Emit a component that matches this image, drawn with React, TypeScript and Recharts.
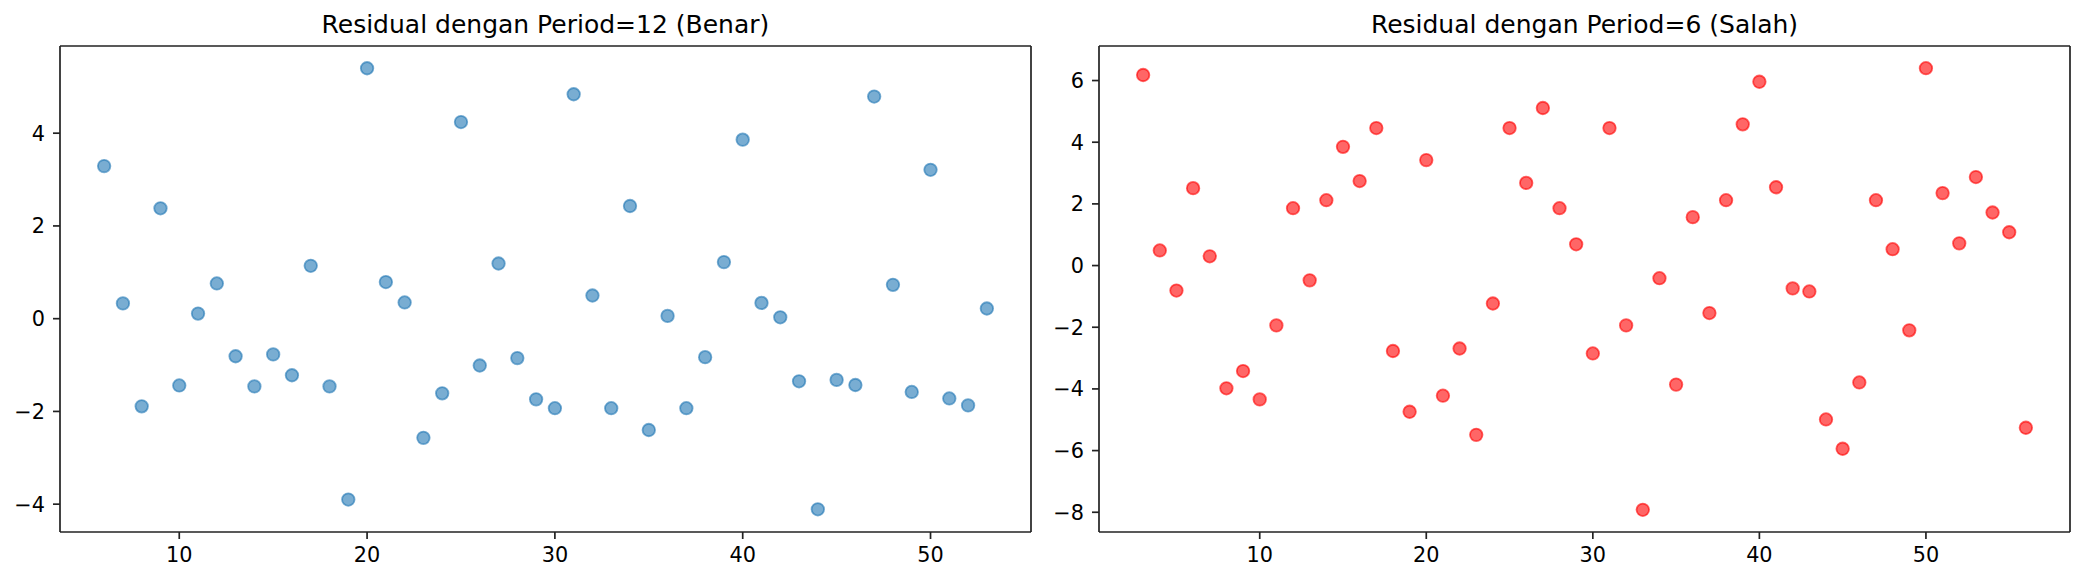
import React from 'react';
import { ScatterChart, Scatter, XAxis, YAxis } from 'recharts';

// Residual period=12 (benar)
const benarX = [6, 7, 8, 9, 10, 11, 12, 13, 14, 15, 16, 17, 18, 19, 20, 21, 22, 23, 24, 25, 26, 27, 28, 29,
  30, 31, 32, 33, 34, 35, 36, 37, 38, 39, 40, 41, 42, 43, 44, 45, 46, 47, 48, 49, 50, 51, 52, 53];
const benarY = [3.29, 0.33, -1.89, 2.38, -1.44, 0.11, 0.76, -0.81, -1.46, -0.77, -1.22, 1.14, -1.46, -3.90,
  5.40, 0.79, 0.35, -2.57, -1.61, 4.24, -1.01, 1.19, -0.85, -1.74,
  -1.93, 4.84, 0.50, -1.93, 2.43, -2.40, 0.06, -1.93, -0.83, 1.22, 3.86, 0.34, 0.03, -1.35, -4.11, -1.32,
  -1.43, 4.79, 0.73, -1.58, 3.21, -1.72, -1.87, 0.22];

// Residual period=6 (salah)
const salahX = [3, 4, 5, 6, 7, 8, 9, 10, 11, 12, 13, 14, 15, 16, 17, 18, 19, 20, 21, 22, 23, 24, 25, 26, 27, 28, 29,
  30, 31, 32, 33, 34, 35, 36, 37, 38, 39, 40, 41, 42, 43, 44, 45, 46, 47, 48, 49, 50, 51, 52, 53, 54, 55, 56];
const salahY = [6.18, 0.49, -0.81, 2.51, 0.30, -3.98, -3.42, -4.34, -1.94, 1.86, -0.48, 2.12, 3.85, 2.74, 4.46,
  -2.77, -4.74, 3.42, -4.22, -2.69, -5.49, -1.23, 4.46, 2.68, 5.11, 1.86, 0.69,
  -2.85, 4.46, -1.94, -7.92, -0.41, -3.86, 1.57, -1.54, 2.12, 4.58, 5.96, 2.54, -0.74, -0.84, -4.99, -5.94,
  -3.79, 2.12, 0.53, -2.10, 6.40, 2.35, 0.72, 2.87, 1.72, 1.08, -5.26];

const benarXTicks = [10, 20, 30, 40, 50];
const benarYTicks = [-4, -2, 0, 2, 4];
const salahXTicks = [10, 20, 30, 40, 50];
const salahYTicks = [-8, -6, -4, -2, 0, 2, 4, 6];

const toPoints = (xs: number[], ys: number[]) => xs.map((x, i) => ({ x, y: ys[i] }));

const FONT = '"DejaVu Sans", sans-serif';
const fmt = (v: number) => (v < 0 ? `\u2212${Math.abs(v)}` : `${v}`);
const tickStyle = { fontSize: 20.8, fill: '#000', fontFamily: FONT };
const lineStyle = { stroke: '#222', strokeWidth: 1.7 };

interface PanelProps {
  left: number;
  width: number;
  yAxisWidth: number;
  rightMargin: number;
  data: { x: number; y: number }[];
  xDomain: [number, number];
  yDomain: [number, number];
  xTicks: number[];
  yTicks: number[];
  color: string;
}

const Panel: React.FC<PanelProps> = ({ left, width, yAxisWidth, rightMargin, data, xDomain, yDomain, xTicks, yTicks, color }) => (
  <div style={{ position: 'absolute', left, top: 0 }}>
    <ScatterChart width={width} height={582} margin={{ top: 45, right: rightMargin - 1, bottom: 0, left: 0 }}>
      <XAxis
        type="number"
        dataKey="x"
        domain={xDomain}
        ticks={xTicks}
        allowDataOverflow
        height={50}
        tickSize={7}
        tickMargin={8.5}
        tick={tickStyle}
        tickFormatter={fmt}
        axisLine={lineStyle}
        tickLine={lineStyle}
      />
      {/* top + right spines */}
      <XAxis xAxisId="top" orientation="top" type="number" dataKey="x" domain={xDomain} allowDataOverflow height={1} tick={false} tickLine={false} axisLine={lineStyle} />
      <YAxis
        type="number"
        dataKey="y"
        domain={yDomain}
        ticks={yTicks}
        allowDataOverflow
        width={yAxisWidth}
        tickSize={7}
        tickMargin={8}
        tick={tickStyle}
        tickFormatter={fmt}
        axisLine={lineStyle}
        tickLine={lineStyle}
      />
      <YAxis yAxisId="right" orientation="right" type="number" dataKey="y" domain={yDomain} allowDataOverflow width={1} tick={false} tickLine={false} axisLine={lineStyle} />
      <Scatter
        data={data}
        isAnimationActive={false}
        shape={(p: any) => (
          <circle cx={p.cx} cy={p.cy} r={6.25} fill={color} fillOpacity={0.6} stroke={color} strokeOpacity={0.6} strokeWidth={1.8} />
        )}
      />
    </ScatterChart>
  </div>
);

export default function App() {
  return (
    <div style={{ position: 'absolute', left: 0, top: 0, width: 2085, height: 582, background: '#fff' }}>
      <Panel
        left={0}
        width={1050}
        yAxisWidth={60}
        rightMargin={19}
        data={toPoints(benarX, benarY)}
        xDomain={[3.65, 55.35]}
        yDomain={[-4.6, 5.88]}
        xTicks={benarXTicks}
        yTicks={benarYTicks}
        color="#1f77b4"
      />
      <Panel
        left={1050}
        width={1035}
        yAxisWidth={49}
        rightMargin={15}
        data={toPoints(salahX, salahY)}
        xDomain={[0.35, 58.65]}
        yDomain={[-8.64, 7.12]}
        xTicks={salahXTicks}
        yTicks={salahYTicks}
        color="#ff0000"
      />
      <svg width={2085} height={582} style={{ position: 'absolute', left: 0, top: 0, pointerEvents: 'none' }}>
        <text x={545.4} y={33.3} textAnchor="middle" fontSize={25} fontFamily={FONT} fill="#000">
          Residual dengan Period=12 (Benar)
        </text>
        <text x={1584.5} y={33.3} textAnchor="middle" fontSize={25} fontFamily={FONT} fill="#000">
          Residual dengan Period=6 (Salah)
        </text>
      </svg>
    </div>
  );
}
